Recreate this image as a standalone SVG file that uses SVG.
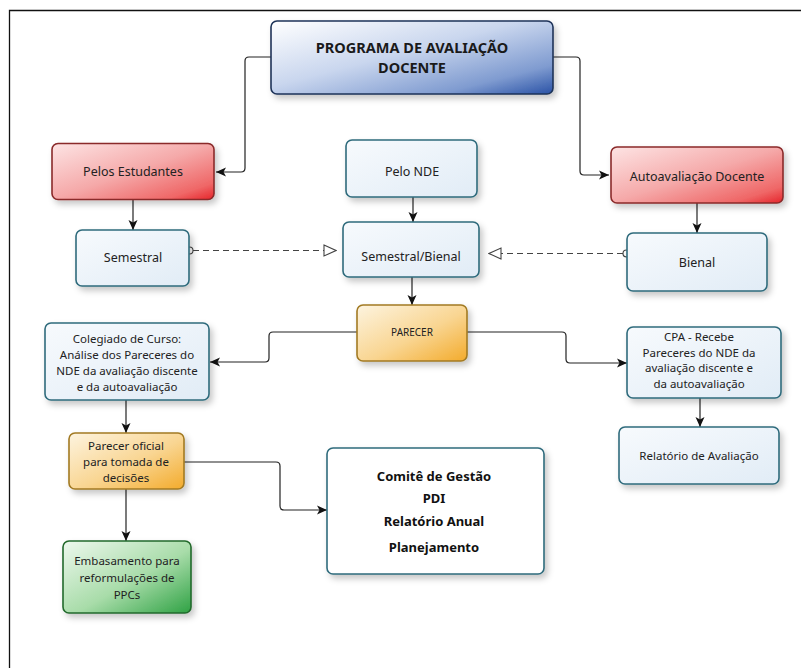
<svg xmlns="http://www.w3.org/2000/svg" width="801" height="668" viewBox="0 0 801 668">
<style>
  text { font-family: "Noto Sans", "Open Sans", sans-serif; fill: #222; text-anchor: middle; }
  .lbl { font-size: 12.5px; }
  .sm { font-size: 11.5px; }
  .tiny { font-size: 10px; }
  .bold { font-size: 13px; font-weight: bold; fill: #111; }
  .title { font-size: 14.5px; font-weight: bold; fill: #1a1a1a; }
  .box { stroke-width: 1.6; filter: url(#shadow); }
  .blue { fill: url(#gBlue); stroke: #1e3358; }
  .red { fill: url(#gRed); stroke: #8a2a2a; }
  .lt { fill: url(#gLight); stroke: #2f6b7c; }
  .or { fill: url(#gOrange); stroke: #a27a24; }
  .gr { fill: url(#gGreen); stroke: #22692c; }
  .wh { fill: #ffffff; stroke: #2f6b7c; }
  .conn { fill: none; stroke: #222; stroke-width: 1.2; }
  .dash { fill: none; stroke: #444; stroke-width: 1.1; stroke-dasharray: 6 4; }
  .endc { fill: #fff; stroke: #444; stroke-width: 1.1; }
</style>
<defs>
  <filter id="shadow" x="-10%" y="-10%" width="130%" height="140%">
    <feDropShadow dx="3" dy="4" stdDeviation="3" flood-color="#000" flood-opacity="0.22"/>
  </filter>
  <linearGradient id="gBlue" x1="0" y1="0" x2="1" y2="1">
    <stop offset="0" stop-color="#ffffff"/>
    <stop offset="0.45" stop-color="#c9d6ee"/>
    <stop offset="0.8" stop-color="#7f9bd0"/>
    <stop offset="1" stop-color="#2a52a6"/>
  </linearGradient>
  <linearGradient id="gRed" x1="0" y1="0" x2="1" y2="1">
    <stop offset="0" stop-color="#fde4e4"/>
    <stop offset="0.5" stop-color="#f5a9a9"/>
    <stop offset="0.85" stop-color="#ef6767"/>
    <stop offset="1" stop-color="#e5242a"/>
  </linearGradient>
  <linearGradient id="gLight" x1="0" y1="0" x2="1" y2="1">
    <stop offset="0" stop-color="#f7fafd"/>
    <stop offset="1" stop-color="#e1ecf6"/>
  </linearGradient>
  <linearGradient id="gOrange" x1="0" y1="0" x2="1" y2="1">
    <stop offset="0" stop-color="#fdf4e0"/>
    <stop offset="0.55" stop-color="#f9d591"/>
    <stop offset="1" stop-color="#f3ab2c"/>
  </linearGradient>
  <linearGradient id="gGreen" x1="0" y1="0" x2="1" y2="1">
    <stop offset="0" stop-color="#eef8ee"/>
    <stop offset="0.55" stop-color="#a8dca9"/>
    <stop offset="1" stop-color="#2fa244"/>
  </linearGradient>
  <marker id="arr" viewBox="0 0 10 10" refX="10" refY="5" markerWidth="10" markerHeight="10" markerUnits="userSpaceOnUse" orient="auto">
    <path d="M0,0.5 L10,5 L0,9.5 L2.5,5 Z" fill="#111"/>
  </marker>
  <marker id="hollow" viewBox="0 0 14 14" refX="13" refY="7" markerWidth="14" markerHeight="14" markerUnits="userSpaceOnUse" orient="auto">
    <path d="M1,1.5 L13,7 L1,12.5 Z" fill="#fff" stroke="#444" stroke-width="1.1"/>
  </marker>
</defs>

<rect width="801" height="668" fill="#ffffff"/>
<path d="M9.5,668 V10.5 H801" fill="none" stroke="#111" stroke-width="1.3"/>

<g id="connectors">
  <path class="conn" d="M271,57 H249 Q245,57 245,61 V168 Q245,172 241,172 H216" marker-end="url(#arr)"/>
  <path class="conn" d="M553,57 H576 Q580,57 580,61 V171 Q580,175 584,175 H609" marker-end="url(#arr)"/>
  <path class="conn" d="M133,200 V230" marker-end="url(#arr)"/>
  <path class="conn" d="M413,197 V222" marker-end="url(#arr)"/>
  <path class="conn" d="M697,203 V233" marker-end="url(#arr)"/>
  <path class="dash" d="M193,250.5 H336" marker-end="url(#hollow)"/>
  <circle class="endc" cx="189.5" cy="250.5" r="3.5"/>
  <path class="dash" d="M623,253.5 H489" marker-end="url(#hollow)"/>
  <circle class="endc" cx="626.5" cy="253.5" r="3.5"/>
  <path class="conn" d="M412,277 V305" marker-end="url(#arr)"/>
  <path class="conn" d="M357,332 H273 Q269,332 269,336 V358 Q269,362 265,362 H210" marker-end="url(#arr)"/>
  <path class="conn" d="M467,332 H562 Q566,332 566,336 V359 Q566,363 570,363 H627" marker-end="url(#arr)"/>
  <path class="conn" d="M126,400 V433" marker-end="url(#arr)"/>
  <path class="conn" d="M126,489 V541" marker-end="url(#arr)"/>
  <path class="conn" d="M184,462 H276 Q280,462 280,466 V506 Q280,510 284,510 H327" marker-end="url(#arr)"/>
  <path class="conn" d="M700,398 V427" marker-end="url(#arr)"/>
</g>

<g id="n-title">
  <rect class="box blue" x="271" y="21" width="282" height="73" rx="6"/>
  <text class="title" x="412" y="53">PROGRAMA DE AVALIAÇÃO</text>
  <text class="title" x="412" y="73">DOCENTE</text>
</g>
<g id="n-estudantes">
  <rect class="box red" x="52" y="143.5" width="162" height="56" rx="6"/>
  <text class="lbl" x="133" y="176">Pelos Estudantes</text>
</g>
<g id="n-semestral">
  <rect class="box lt" x="76" y="230" width="113" height="56" rx="6"/>
  <text class="lbl" x="133" y="262">Semestral</text>
</g>
<g id="n-nde">
  <rect class="box lt" x="346" y="140" width="131" height="57" rx="6"/>
  <text class="lbl" x="412" y="176">Pelo NDE</text>
</g>
<g id="n-semestral-bienal">
  <rect class="box lt" x="343" y="222" width="136" height="55" rx="6"/>
  <text class="lbl" x="411" y="261">Semestral/Bienal</text>
</g>
<g id="n-autoavaliacao">
  <rect class="box red" x="611" y="147" width="172" height="56" rx="6"/>
  <text class="lbl" x="697" y="181">Autoavaliação Docente</text>
</g>
<g id="n-bienal">
  <rect class="box lt" x="627" y="233" width="140" height="58" rx="6"/>
  <text class="lbl" x="697" y="267">Bienal</text>
</g>
<g id="n-parecer">
  <rect class="box or" x="357" y="305" width="110" height="56" rx="6"/>
  <text class="tiny" x="412" y="336">PARECER</text>
</g>
<g id="n-colegiado">
  <rect class="box lt" x="45" y="323" width="164" height="77" rx="6"/>
  <text class="sm" x="127" y="342.5">Colegiado  de Curso:</text>
  <text class="sm" x="127" y="358.5">Análise dos Pareceres do</text>
  <text class="sm" x="127" y="374.5">NDE da avaliação discente</text>
  <text class="sm" x="127" y="390.5">e da autoavaliação</text>
</g>
<g id="n-cpa">
  <rect class="box lt" x="627" y="327" width="154" height="71" rx="6"/>
  <text class="sm" x="699" y="341">CPA - Recebe</text>
  <text class="sm" x="699" y="356.7">Pareceres do NDE da</text>
  <text class="sm" x="699" y="372.4">avaliação discente e</text>
  <text class="sm" x="699" y="388.1">da autoavaliação</text>
</g>
<g id="n-relatorio">
  <rect class="box lt" x="619" y="427" width="160" height="57" rx="6"/>
  <text class="sm" x="699" y="460">Relatório de  Avaliação</text>
</g>
<g id="n-parecer-oficial">
  <rect class="box or" x="69" y="433" width="115" height="56" rx="6"/>
  <text class="sm" x="126" y="449.5">Parecer oficial</text>
  <text class="sm" x="126" y="466">para tomada de</text>
  <text class="sm" x="126" y="482">decisões</text>
</g>
<g id="n-embasamento">
  <rect class="box gr" x="63" y="541" width="128" height="72" rx="6"/>
  <text class="sm" x="127" y="564.5">Embasamento para</text>
  <text class="sm" x="127" y="581.5">reformulações de</text>
  <text class="sm" x="127" y="598.5">PPCs</text>
</g>
<g id="n-comite">
  <rect class="box wh" x="327" y="448" width="217" height="126" rx="6"/>
  <text class="bold" x="434" y="480.5">Comitê de Gestão</text>
  <text class="bold" x="434" y="502.5">PDI</text>
  <text class="bold" x="434" y="525.5">Relatório Anual</text>
  <text class="bold" x="434" y="551.5">Planejamento</text>
</g>
</svg>
